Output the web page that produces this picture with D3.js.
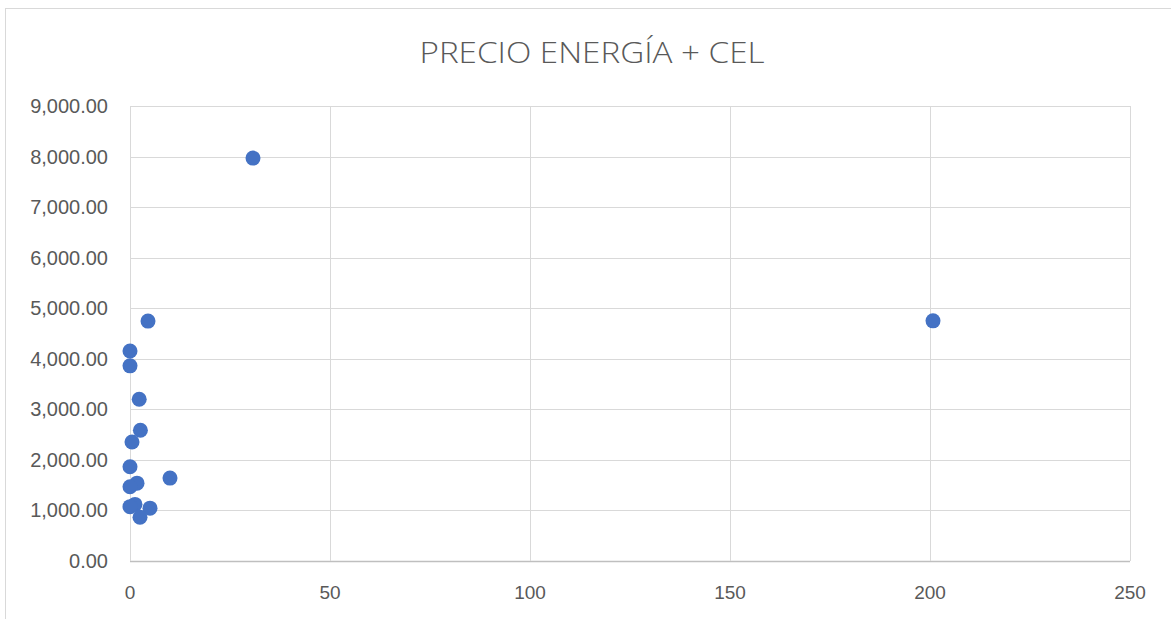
<!DOCTYPE html>
<html><head><meta charset="utf-8">
<script src="https://cdn.jsdelivr.net/npm/d3@7"></script>
<style>body{margin:0;background:#fff}svg{display:block}</style>
</head><body>
<script>
const title = "PRECIO ENERGÍA + CEL";
const xValues = [30.75, 200.75, 4.5, 0, 0, 2.3, 2.6, 0.5, 0, 10, 1.75, 0, 1.25, 0, 5, 2.5];
const yValues = [7970, 4750, 4745, 4155, 3860, 3200, 2585, 2355, 1865, 1640, 1540, 1470, 1120, 1075, 1045, 865];
const xTicks = [0, 50, 100, 150, 200, 250];
const yTicks = [0, 1000, 2000, 3000, 4000, 5000, 6000, 7000, 8000, 9000];

const W = 1171, H = 619;
const svg = d3.select("body").append("svg").attr("width", W).attr("height", H);
svg.append("rect").attr("x",5.5).attr("y",8.5).attr("width",W).attr("height",H)
  .attr("fill","#fff").attr("stroke","#d9d9d9");

const x = d3.scaleLinear().domain([0,250]).range([130,1130]);
const y = d3.scaleLinear().domain([0,9000]).range([561,106]);

const g = svg.append("g");
g.selectAll(".hg").data(yTicks).join("line")
  .attr("x1",x(0)).attr("x2",x(250)).attr("y1",d=>Math.round(y(d))+0.5).attr("y2",d=>Math.round(y(d))+0.5)
  .attr("stroke",d=>d===0?"#bfbfbf":"#d9d9d9").attr("stroke-width",d=>d===0?1.5:1);
g.selectAll(".vg").data(xTicks).join("line")
  .attr("y1",y(0)).attr("y2",y(9000)).attr("x1",d=>Math.round(x(d))+0.5).attr("x2",d=>Math.round(x(d))+0.5)
  .attr("stroke","#d9d9d9");

const fmt = d3.format(",.2f");
g.selectAll(".yl").data(yTicks).join("text")
  .attr("x",108).attr("y",d=>y(d)).attr("dy","0.35em").attr("text-anchor","end")
  .attr("font-family","Liberation Sans, Arial, sans-serif").attr("font-size",20).attr("fill","#595959")
  .text(d=>fmt(d));
g.selectAll(".xl").data(xTicks).join("text")
  .attr("x",d=>x(d)).attr("y",592).attr("dy","0.35em").attr("text-anchor","middle")
  .attr("font-family","Liberation Sans, Arial, sans-serif").attr("font-size",19).attr("fill","#595959")
  .text(d=>d);

svg.append("text").attr("x",592).attr("y",52).attr("dy","0.35em").attr("text-anchor","middle")
  .attr("font-family","Open Sans, sans-serif").attr("font-weight",300).attr("font-size",30).attr("fill","#595959")
  .attr("textLength",345).attr("lengthAdjust","spacingAndGlyphs")
  .text(title);

const pts = xValues.map((v,i)=>({x:v,y:yValues[i]}));
g.selectAll("circle").data(pts).join("circle")
  .attr("cx",d=>x(d.x)).attr("cy",d=>y(d.y)).attr("r",7.5).attr("fill","#4472c4");
</script>
</body></html>
